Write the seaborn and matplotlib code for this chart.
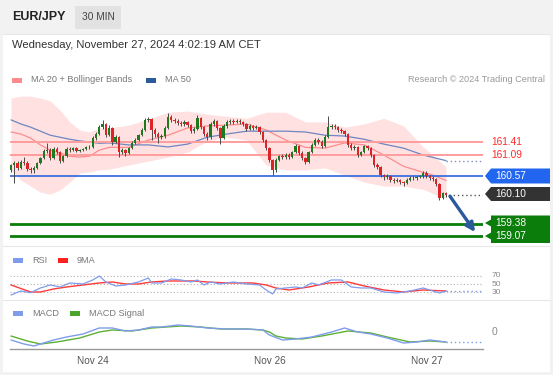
import matplotlib
matplotlib.use("Agg")
import matplotlib.pyplot as plt
from matplotlib.patches import Rectangle, Polygon
import numpy as np
import seaborn as sns

W, H = 553, 375

# EUR/JPY 30 min candles
opens = [160.71, 160.83, 160.88, 160.76, 160.90, 160.88, 160.73, 160.71, 160.76, 160.88,
         161.00, 161.18, 161.20, 161.00, 161.23, 161.15, 160.93, 161.05, 161.23, 161.20,
         161.25, 161.18, 161.20, 161.23, 161.28, 161.27, 161.50, 161.60, 161.77, 161.85,
         161.57, 161.75, 161.40, 161.52, 161.15, 161.20, 161.13, 161.25, 161.38, 161.45,
         161.57, 161.70, 161.95, 161.97, 161.70, 161.60, 161.52, 161.55, 161.75, 162.02,
         161.95, 161.92, 161.87, 161.85, 161.90, 161.82, 161.67, 161.72, 162.00, 161.77,
         161.60, 161.52, 161.85, 161.92, 161.75, 161.50, 161.80, 161.90, 161.92, 161.90,
         161.92, 161.90, 161.85, 161.72, 161.80, 161.75, 161.77, 161.65, 161.45, 161.25,
         160.95, 160.71, 160.95, 161.05, 161.03, 161.08, 161.03, 161.15, 161.30, 161.13,
         161.00, 160.90, 161.15, 161.33, 161.45, 161.40, 161.30, 161.52, 161.77, 161.80,
         161.77, 161.70, 161.67, 161.60, 161.33, 161.25, 161.28, 161.08, 161.15, 161.30,
         161.25, 161.08, 160.83, 160.78, 160.58, 160.53, 160.55, 160.46, 160.43, 160.46,
         160.41, 160.38, 160.46, 160.51, 160.50, 160.53, 160.55, 160.63, 160.55, 160.51,
         160.48, 160.36, 160.01, 160.13]
closes = [160.83, 160.88, 160.76, 160.90, 160.88, 160.73, 160.71, 160.76, 160.88, 161.00,
          161.18, 161.20, 161.00, 161.23, 161.15, 160.93, 161.05, 161.23, 161.20, 161.25,
          161.18, 161.20, 161.23, 161.28, 161.27, 161.50, 161.60, 161.77, 161.85, 161.57,
          161.75, 161.40, 161.52, 161.15, 161.20, 161.13, 161.25, 161.38, 161.45, 161.57,
          161.70, 161.95, 161.97, 161.70, 161.60, 161.52, 161.55, 161.75, 162.02, 161.95,
          161.92, 161.87, 161.85, 161.90, 161.82, 161.67, 161.72, 162.00, 161.77, 161.60,
          161.52, 161.85, 161.92, 161.75, 161.50, 161.80, 161.90, 161.92, 161.90, 161.92,
          161.90, 161.85, 161.72, 161.80, 161.75, 161.77, 161.65, 161.45, 161.25, 160.95,
          160.71, 160.95, 161.05, 161.03, 161.08, 161.03, 161.15, 161.30, 161.13, 161.00,
          160.90, 161.15, 161.33, 161.45, 161.40, 161.30, 161.52, 161.77, 161.80, 161.77,
          161.70, 161.67, 161.60, 161.33, 161.25, 161.28, 161.08, 161.15, 161.30, 161.25,
          161.08, 160.83, 160.78, 160.58, 160.53, 160.55, 160.46, 160.43, 160.46, 160.41,
          160.38, 160.46, 160.51, 160.50, 160.53, 160.55, 160.63, 160.55, 160.51, 160.48,
          160.36, 160.01, 160.13, 160.10]
highs = [160.86, 160.92, 160.93, 160.95, 161.02, 160.92, 160.79, 160.80, 160.91, 161.04,
         161.22, 161.37, 161.25, 161.28, 161.27, 161.18, 161.08, 161.27, 161.27, 161.28,
         161.28, 161.24, 161.26, 161.31, 161.32, 161.55, 161.64, 161.82, 161.95, 161.88,
         161.82, 161.78, 161.58, 161.55, 161.26, 161.24, 161.28, 161.42, 161.49, 161.61,
         161.75, 162.00, 162.03, 162.00, 161.74, 161.64, 161.60, 161.79, 162.12, 162.08,
         161.99, 161.96, 161.92, 161.94, 161.93, 161.85, 161.78, 162.06, 162.03, 161.80,
         161.65, 161.89, 161.97, 161.95, 161.78, 161.84, 161.94, 161.96, 161.96, 161.97,
         161.96, 161.93, 161.88, 161.84, 161.83, 161.82, 161.80, 161.68, 161.48, 161.28,
         160.98, 161.00, 161.09, 161.10, 161.12, 161.12, 161.19, 161.35, 161.33, 161.17,
         161.04, 161.19, 161.37, 161.50, 161.50, 161.44, 161.57, 162.05, 161.85, 161.84,
         161.80, 161.74, 161.70, 161.63, 161.37, 161.32, 161.31, 161.19, 161.34, 161.34,
         161.28, 161.10, 160.87, 160.81, 160.62, 160.60, 160.58, 160.50, 160.50, 160.49,
         160.44, 160.50, 160.55, 160.55, 160.57, 160.59, 160.69, 160.68, 160.58, 160.55,
         160.51, 160.39, 160.17, 160.16]
lows = [160.67, 160.38, 160.72, 160.73, 160.84, 160.69, 160.64, 160.63, 160.73, 160.85,
        160.97, 161.12, 160.95, 160.97, 161.10, 160.88, 160.90, 161.02, 161.16, 161.17,
        161.15, 161.16, 161.18, 161.21, 161.24, 161.25, 161.46, 161.57, 161.73, 161.52,
        161.54, 161.32, 161.37, 161.02, 161.10, 161.06, 161.10, 161.22, 161.35, 161.42,
        161.54, 161.67, 161.90, 161.45, 161.52, 161.38, 161.47, 161.50, 161.72, 161.90,
        161.87, 161.83, 161.80, 161.81, 161.78, 161.62, 161.63, 161.69, 161.72, 161.55,
        161.46, 161.48, 161.81, 161.70, 161.35, 161.47, 161.76, 161.86, 161.86, 161.87,
        161.86, 161.81, 161.68, 161.69, 161.70, 161.72, 161.60, 161.41, 161.20, 160.90,
        160.58, 160.67, 160.92, 160.98, 160.99, 160.98, 161.00, 161.12, 161.08, 160.95,
        160.85, 160.87, 161.12, 161.30, 161.36, 161.26, 161.27, 161.49, 161.73, 161.73,
        161.66, 161.63, 161.56, 161.29, 161.20, 161.21, 161.03, 161.05, 161.12, 161.21,
        161.04, 160.79, 160.74, 160.53, 160.47, 160.49, 160.42, 160.39, 160.40, 160.37,
        160.32, 160.35, 160.43, 160.46, 160.47, 160.50, 160.52, 160.51, 160.47, 160.44,
        160.31, 159.97, 159.98, 160.05]

# moving averages / bollinger bands (read along the candles)
ma_idx = [0, 3, 6, 9, 12, 15, 18, 21, 24, 27, 30, 36, 42, 48, 54, 60, 66, 72, 78, 84, 90, 96,
          102, 108, 114, 120, 126, 129, 133]
ma50 = [161.95, 161.85, 161.77, 161.67, 161.57, 161.52, 161.47, 161.43, 161.40, 161.37, 161.38,
        161.33, 161.33, 161.28, 161.35, 161.52, 161.60, 161.67, 161.67, 161.67, 161.65, 161.57,
        161.55, 161.47, 161.35, 161.25, 161.08, 161.02, 160.94]
ma20 = [161.65, 161.60, 161.50, 161.33, 161.20, 161.13, 161.05, 161.03, 161.05, 161.20, 161.27,
        161.27, 161.45, 161.57, 161.75, 161.80, 161.82, 161.85, 161.70, 161.45, 161.27, 161.25,
        161.38, 161.33, 161.08, 160.80, 160.65, 160.58, 160.45]
bb_upper = [162.49, 162.54, 162.54, 162.49, 162.42, 162.19, 161.90, 161.70, 161.65, 161.75, 161.75,
            161.82, 161.97, 162.14, 162.17, 162.09, 162.04, 161.99, 162.14, 162.14, 161.90, 161.90,
            161.77, 161.85, 161.99, 161.80, 161.28, 161.08, 160.78]
bb_lower = [160.71, 160.46, 160.31, 160.16, 160.11, 160.21, 160.41, 160.63, 160.66, 160.71, 160.73,
            160.83, 160.93, 161.03, 161.15, 161.43, 161.52, 161.45, 160.83, 160.71, 160.71, 160.76,
            160.58, 160.41, 160.31, 160.31, 160.23, 160.13, 160.01]

# RSI and its 9 period MA
rsi_idx = [0, 3, 6, 9, 12, 15, 18, 22, 25, 27, 29, 32, 35, 39, 42, 43, 46, 49, 52, 55, 57, 59, 61,
           64, 68, 72, 76, 78, 80, 81, 84, 87, 89, 92, 94, 98, 101, 104, 107, 110, 114, 118, 122,
           126, 129, 131, 133]
rsi = [23.5, 33.1, 29.0, 40.3, 47.5, 42.7, 52.3, 49.9, 59.5, 69.0, 54.7, 45.1, 47.5, 54.7, 64.3, 52.3,
       52.3, 61.9, 59.5, 54.7, 59.5, 47.5, 54.7, 49.9, 54.7, 49.9, 47.5, 35.5, 25.9, 37.9, 40.3, 42.7,
       40.3, 52.3, 47.5, 59.5, 59.5, 42.7, 40.3, 40.3, 30.7, 28.3, 33.1, 40.3, 33.1, 28.3, 33.1]
rsi_ma_idx = [0, 6, 9, 13, 17, 22, 27, 31, 35, 39, 43, 48, 56, 60, 66, 74, 78, 81, 85, 91, 97, 103,
              108, 114, 120, 126, 133]
rsi_ma = [47.5, 30.7, 30.7, 37.9, 42.7, 47.5, 52.3, 54.7, 49.9, 49.9, 54.7, 57.1, 57.1, 54.7, 52.3,
          52.3, 47.5, 40.3, 35.5, 42.7, 52.3, 54.7, 45.1, 35.5, 30.7, 35.5, 33.1]

# MACD and signal
macd_idx = [0, 4, 7, 10, 13, 17, 22, 27, 31, 35, 39, 43, 46, 51, 55, 60, 66, 72, 77, 79, 83, 87,
            92, 98, 102, 106, 110, 115, 120, 124, 128, 133]
macd = [-0.08, -0.12, -0.14, -0.11, -0.08, -0.05, -0.02, 0.04, 0.04, 0.01, 0.02, 0.05, 0.05, 0.07,
        0.06, 0.04, 0.03, 0.03, 0.02, -0.03, -0.08, -0.07, -0.05, 0.00, 0.04, 0.00, -0.02, -0.06,
        -0.11, -0.10, -0.08, -0.10]
signal_idx = [0, 5, 9, 14, 21, 27, 31, 37, 43, 52, 58, 64, 72, 77, 79, 81, 84, 89, 95, 103, 110,
              115, 122, 128, 133]
signal = [-0.04, -0.09, -0.12, -0.10, -0.06, 0.00, 0.02, 0.01, 0.04, 0.06, 0.05, 0.03, 0.03, 0.02,
          0.00, -0.04, -0.06, -0.07, -0.04, 0.01, -0.01, -0.05, -0.10, -0.09, -0.10]

resistances = [161.41, 161.09]
pivot = 160.57
last_price = 160.10
supports = [159.38, 159.07]
day_ticks = [25, 79, 127]
day_labels = ["Nov 24", "Nov 26", "Nov 27"]

sns.set_style("white")
plt.rcParams['font.family'] = ['Liberation Sans', 'DejaVu Sans']

fig = plt.figure(figsize=(W / 100, H / 100), dpi=100, facecolor='#f2f2f2')


def add_ax(x0, y0, x1, y1, z=0):
    a = fig.add_axes([x0 / W, 1 - y1 / H, (x1 - x0) / W, (y1 - y0) / H], zorder=z)
    a.set_facecolor('none')
    return a


# background panels
bg = add_ax(0, 0, W, H, z=-5)
bg.set_xlim(0, W)
bg.set_ylim(H, 0)
bg.axis('off')
bg.add_patch(Rectangle((3, 34), 547, 338, color='white', lw=0))
for yy in (34, 246, 300):
    bg.plot([3, 550], [yy, yy], color='#e8e8e8', lw=0.8)
bg.add_patch(Rectangle((75, 6), 46, 23, color='#e2e2e2', lw=0))

XMIN, XMAX = -0.3, 144.3
idx = np.arange(len(closes))
o = np.array(opens)
c = np.array(closes)

# main price panel
ax = add_ax(10, 88, 483, 243, z=1)
ax.set_xlim(XMIN, XMAX)
ax.set_ylim(158.90, 162.74)
ax.axis('off')

ax.fill_between(ma_idx, bb_lower, bb_upper, color='#ffe1e1', lw=0, zorder=1)
sns.lineplot(x=ma_idx, y=ma20, ax=ax, color='#ff8c8c', lw=0.9, zorder=2)
sns.lineplot(x=ma_idx, y=ma50, ax=ax, color='#6f86c2', lw=0.9, zorder=2)

for r in resistances:
    ax.axhline(r, color='#ff9d9d', lw=1.4, zorder=3)
ax.axhline(pivot, color='#3d6fe0', lw=1.3, zorder=3)
for s in supports:
    ax.axhline(s, color='#0a7d0a', lw=2.0, zorder=3)

ax.plot([ma_idx[-1], XMAX], [ma50[-1], ma50[-1]], ls=(0, (1, 2)), color='#7f90c0', lw=1.0, zorder=3)
ax.plot([idx[-1] + 1, XMAX], [last_price, last_price], ls=(0, (1, 2)), color='#555555', lw=1.0, zorder=3)

up = c >= o
body_lo = np.minimum(o, c)
body_h = np.maximum(np.abs(c - o), 0.014)
ax.vlines(idx, lows, highs, color='#4a4a4a', lw=0.7, zorder=4)
ax.bar(idx, body_h, bottom=body_lo, width=0.72,
       color=np.where(up, '#1e7a1e', '#dc2328'), lw=0, zorder=5)

ax.annotate('', xy=(141.9, 159.17), xytext=(134.2, 160.06),
            arrowprops=dict(arrowstyle='-|>', color='#2b5a9c', lw=2.4, mutation_scale=13,
                            shrinkA=0, shrinkB=0), zorder=6, annotation_clip=False)

# RSI panel
rax = add_ax(10, 270, 483, 297, z=1)
rax.set_xlim(XMIN, XMAX)
rax.set_ylim(18.7, 83.4)
rax.axis('off')
for lv in (70, 50, 30):
    rax.axhline(lv, color='#b0b0b0', ls=(0, (1, 2)), lw=0.8)
sns.lineplot(x=rsi_ma_idx, y=rsi_ma, ax=rax, color='#ff3a3a', lw=1.0)
sns.lineplot(x=rsi_idx, y=rsi, ax=rax, color='#7f9cec', lw=0.9)
rax.plot([rsi_idx[-1], XMAX], [rsi[-1], rsi[-1]], ls=(0, (1, 2)), color='#7f9cec', lw=1.0)

# MACD panel
max_ = add_ax(10, 318, 483, 348, z=1)
max_.set_xlim(XMIN, XMAX)
max_.set_ylim(-0.16, 0.14)
max_.axis('off')
sns.lineplot(x=signal_idx, y=signal, ax=max_, color='#5cb035', lw=1.0)
sns.lineplot(x=macd_idx, y=macd, ax=max_, color='#7f9cec', lw=1.0)
max_.plot([macd_idx[-1], XMAX], [macd[-1], macd[-1]], ls=(0, (1, 2)), color='#7f9cec', lw=1.0)

# bottom time axis
tax = add_ax(10, 300, 483, 349, z=1)
tax.set_xlim(XMIN, XMAX)
tax.set_ylim(0, 1)
for side in ('top', 'left', 'right'):
    tax.spines[side].set_visible(False)
tax.spines['bottom'].set_color('#9a9a9a')
tax.spines['bottom'].set_linewidth(1.0)
tax.set_yticks([])
tax.set_xticks([XMIN, XMAX])
tax.set_xticklabels([])
tax.tick_params(axis='x', length=4, color='#9a9a9a', width=1)
for t, lab in zip(day_ticks, day_labels):
    tax.text(t, -0.25, lab, ha='center', va='center', fontsize=7.2, color='#555555',
             transform=tax.get_xaxis_transform())

# overlay: header, legends, price tags
ov = add_ax(0, 0, W, H, z=10)
ov.set_xlim(0, W)
ov.set_ylim(H, 0)
ov.axis('off')

ov.text(12, 17.5, 'EUR/JPY', fontsize=9, fontweight='bold', color='#222222', va='center')
ov.text(98, 17.5, '30 MIN', fontsize=7.3, color='#444444', va='center', ha='center')
ov.text(12, 44.5, 'Wednesday, November 27, 2024 4:02:19 AM CET', fontsize=8.1, color='#333333',
        va='center')


def legend_item(x, y, color, label):
    ov.add_patch(Rectangle((x, y - 2.5), 10, 5, color=color, lw=0))
    ov.text(x + 19, y, label, fontsize=6.6, color='#777777', va='center')


legend_item(12, 80, '#ff8c8c', 'MA 20 + Bollinger Bands')
legend_item(146, 80, '#2c5a9a', 'MA 50')
ov.text(545, 80, 'Research \u00a9 2024 Trading Central', fontsize=6.6, color='#9a9a9a',
        va='center', ha='right')
legend_item(13, 260.5, '#7f9cec', 'RSI')
legend_item(58, 260.5, '#ff2020', '9MA')
legend_item(13, 313, '#7f9cec', 'MACD')
legend_item(70, 313, '#4aa52a', 'MACD Signal')

for r, yy in zip(resistances, (142, 155)):
    ov.text(491, yy, f'{r:.2f}', fontsize=7.3, color='#ff2a2a', va='center')


def tag(yc, color, label, half=7.5):
    ov.add_patch(Polygon([(485, yc), (491, yc - half), (550, yc - half), (550, yc + half),
                          (491, yc + half)], closed=True, color=color, lw=0))
    ov.text(495, yc, label, fontsize=7.3, color='white', va='center')


tag(176, '#2266f0', f'{pivot:.2f}')
tag(194, '#333333', f'{last_price:.2f}', half=7)
ov.add_patch(Polygon([(491, 215.5), (550, 215.5), (550, 243), (491, 243), (491, 239.5), (485, 236),
                      (491, 232.5), (491, 226.5), (485, 223), (491, 219.5)],
                     closed=True, color='#0a7d0a', lw=0))
ov.text(495, 223, f'{supports[0]:.2f}', fontsize=7.3, color='white', va='center')
ov.text(495, 236, f'{supports[1]:.2f}', fontsize=7.3, color='white', va='center')

for lv, yy in zip(('70', '50', '30'), (275.6, 284.0, 292.3)):
    ov.text(492, yy, lv, fontsize=6.0, color='#888888', va='center')
ov.text(492, 332, '0', fontsize=7.5, color='#888888', va='center')

fig.savefig('out.png', dpi=100, facecolor=fig.get_facecolor())
